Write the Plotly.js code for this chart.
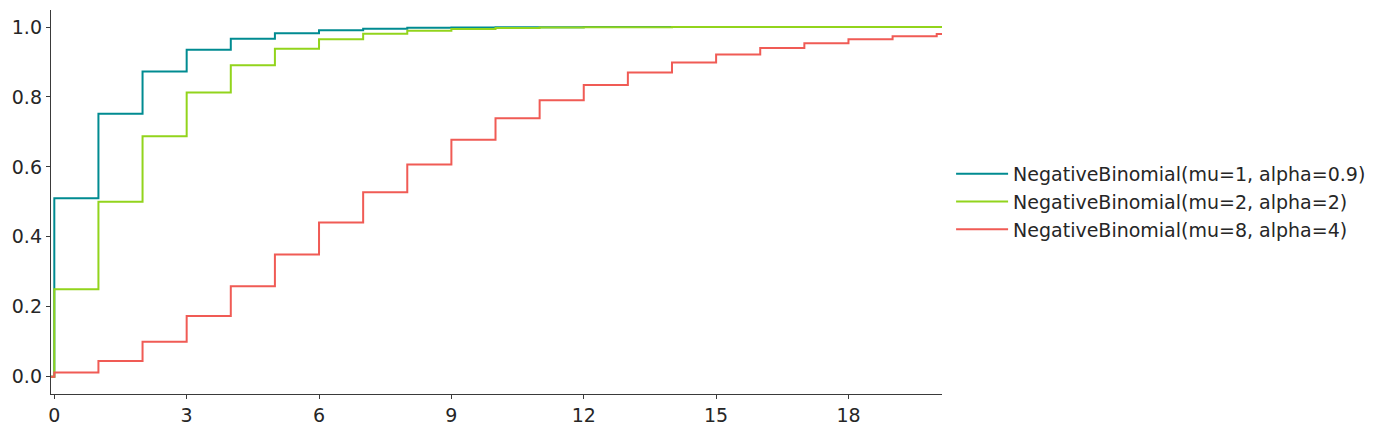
<!DOCTYPE html>
<html>
<head>
<meta charset="utf-8">
<script src="https://cdn.plot.ly/plotly-3.0.1.min.js"></script>
<style>html,body{margin:0;padding:0;background:#fff;}#chart{width:1382px;height:434px;}</style>
</head>
<body>
<div id="chart"></div>
<script>
const xValues = [-1,0,1,2,3,4,5,6,7,8,9,10,11,12,13,14,15,16,17,18,19,20,21];
const cdfMu1Alpha09 = [0,0.5104,0.7522,0.8731,0.9346,0.9661,0.9824,0.9908,0.9952,0.9975,0.9987,0.9993,0.9996,0.9998,0.9999,0.9999,1.0,1.0,1.0,1.0,1.0,1.0,1.0];
const cdfMu2Alpha2 = [0,0.25,0.5,0.6875,0.8125,0.8906,0.9375,0.9648,0.9805,0.9893,0.9941,0.9968,0.9983,0.9991,0.9995,0.9997,0.9999,0.9999,1.0,1.0,1.0,1.0,1.0];
const cdfMu8Alpha4 = [0,0.0123,0.0453,0.1001,0.1733,0.2587,0.3497,0.4407,0.5274,0.6069,0.6776,0.7388,0.7908,0.8341,0.8696,0.8983,0.9213,0.9396,0.9538,0.9650,0.9735,0.9801,0.9851];
const seriesNames = ["NegativeBinomial(mu=1, alpha=0.9)","NegativeBinomial(mu=2, alpha=2)","NegativeBinomial(mu=8, alpha=4)"];
const seriesColors = ["#008b91","#92d41c","#f05b55"];
const xTicks = [0,3,6,9,12,15,18];
const yTicks = [0,0.2,0.4,0.6,0.8,1.0];

const seriesData = [cdfMu1Alpha09, cdfMu2Alpha2, cdfMu8Alpha4];
const traces = seriesData.map((ys, i) => ({
  x: xValues, y: ys, type: 'scatter', mode: 'lines',
  line: {shape: 'hv', color: seriesColors[i], width: 2},
  name: seriesNames[i], legendgroup: 'g' + i
}));

const axisColor = '#3a3a3a';
const font = {family: 'DejaVu Sans', size: 19, color: '#262626'};
const layout = {
  width: 1382, height: 434,
  margin: {l: 51, r: 440, t: 10, b: 40},
  paper_bgcolor: '#fff', plot_bgcolor: '#fff',
  font: font,
  showlegend: true,
  legend: {x: 1.0102, xanchor: 'left', y: 0.5, yanchor: 'middle', font: font,
           bgcolor: 'rgba(0,0,0,0)', borderwidth: 0, tracegroupgap: 0, itemwidth: 52},
  xaxis: {range: [-0.075, 20.12], tickvals: xTicks, ticks: 'outside', ticklen: 4, tickwidth: 1,
          tickcolor: axisColor, showline: true, linecolor: axisColor, linewidth: 1.2,
          showgrid: false, zeroline: false, tickfont: font},
  yaxis: {range: [-0.0494, 1.0486], tickvals: yTicks, tickformat: '.1f', ticks: 'outside', ticklen: 4, tickwidth: 1,
          tickcolor: axisColor, showline: true, linecolor: axisColor, linewidth: 1.2,
          showgrid: false, zeroline: false, tickfont: font}
};
Plotly.newPlot('chart', traces, layout, {displayModeBar: false, staticPlot: true});
</script>
</body>
</html>
